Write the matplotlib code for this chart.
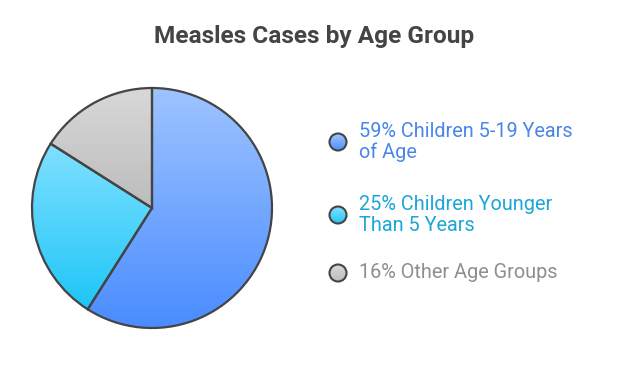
import matplotlib.pyplot as plt
import numpy as np
from matplotlib.colors import LinearSegmentedColormap
from matplotlib.patches import Circle

labels = ["59% Children 5-19 Years\nof Age", "25% Children Younger\nThan 5 Years", "16% Other Age Groups"]
values = [59, 25, 16]
top_colors = ["#9ec4ff", "#80e0ff", "#d8d8d8"]
bottom_colors = ["#4a8cff", "#1ec6f7", "#bcbcbc"]
text_colors = ["#4a86e8", "#1aa6d6", "#8e8e8e"]

plt.rcParams['font.family'] = ['Roboto', 'DejaVu Sans']

W, H = 628, 374
fig = plt.figure(figsize=(W / 100, H / 100), dpi=100)
ax = fig.add_axes([0, 0, 1, 1])


def fill_gradient(patch, c_top, c_bot, x0, x1, y0, y1):
    cmap = LinearSegmentedColormap.from_list("g", [c_bot, c_top])
    grad = np.linspace(0, 1, 256).reshape(-1, 1)
    im = ax.imshow(grad, cmap=cmap, extent=[x0, x1, y0, y1], origin='lower',
                   aspect='auto', zorder=2, interpolation='bilinear')
    im.set_clip_path(patch)


wedges, _ = ax.pie(values, center=(152, H - 208), radius=120, startangle=90,
                   counterclock=False, frame=True,
                   wedgeprops=dict(edgecolor="#444444", linewidth=1.6, facecolor="none"))

for w, ct, cb in zip(wedges, top_colors, bottom_colors):
    w.set_zorder(3)
    ext = w.get_path().get_extents()
    fill_gradient(w, ct, cb, ext.x0, ext.x1, ext.y0, ext.y1)

legend_y = [142, 215, 273]
for y, lab, ct, cb, tc in zip(legend_y, labels, top_colors, bottom_colors, text_colors):
    cy = H - y
    c = Circle((338, cy), 8.5, facecolor="none", edgecolor="#444444", linewidth=1.5, zorder=3)
    ax.add_patch(c)
    fill_gradient(c, ct, cb, 329.5, 346.5, cy - 8.5, cy + 8.5)
    ax.text(359, cy, lab, color=tc, fontsize=14.3, va='center', ha='left', linespacing=1.12)

ax.text(W / 2, H - 36, "Measles Cases by Age Group", color="#444444", fontsize=17.6,
        fontweight='bold', ha='center', va='center')

ax.set_xlim(0, W)
ax.set_ylim(0, H)
ax.set_aspect('auto')
ax.axis('off')

fig.savefig("out.png", dpi=100)
